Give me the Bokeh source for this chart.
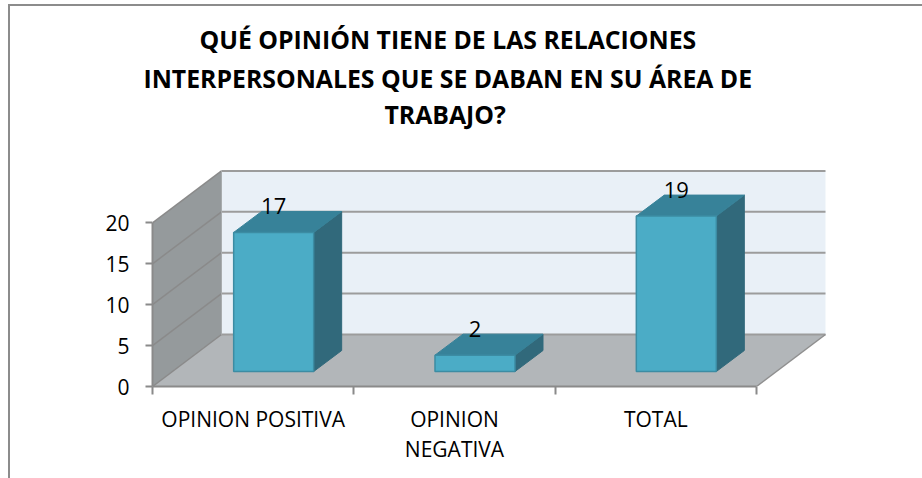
from bokeh.embed import file_html
from bokeh.resources import INLINE
from bokeh.plotting import figure
from bokeh.models import ColumnDataSource, FixedTicker, Title, LinearAxis

TITLE_LINES = ["QUÉ OPINIÓN TIENE DE LAS RELACIONES", "INTERPERSONALES QUE SE DABAN EN SU ÁREA DE", "TRABAJO?"]
TITLE_OFFSETS = [47, -9, 232]
categories = ["OPINION POSITIVA", "OPINION\nNEGATIVA", "TOTAL"]
values = [17, 2, 19]
y_ticks = [0, 5, 10, 15, 20]

PX_X = 201.33   # pixels per category
PX_Y = 8.18     # pixels per unit
OX, OY = 10, 6  # figure origin on the page, border included
FRAME_L, FRAME_T, FRAME_R, FRAME_B = 152 - OX, 130 - OY, 830 - OX, 386 - OY
W, H = 922 - OX, 478 - OY

DX = 69 / PX_X     # wall depth
DY = 52 / PX_Y
BDX = 28 / PX_X    # bar depth
BDY = 21 / PX_Y
BOX = 15 / PX_Y    # bar front offset above the axis
BL = 80 / PX_X / 2
BAR_SHIFT = 20.5 / PX_X

p = figure(width=W, height=H, output_backend="svg", toolbar_location=None,
           x_range=(0, (FRAME_R - FRAME_L) / PX_X),
           y_range=(0, (FRAME_B - FRAME_T) / PX_Y),
           x_axis_location=None, y_axis_location=None,
           frame_width=FRAME_R - FRAME_L, frame_height=FRAME_B - FRAME_T,
           min_border_left=FRAME_L, min_border_right=W - FRAME_R,
           min_border_top=FRAME_T, min_border_bottom=H - FRAME_B,
           outline_line_color=None, margin=(4, 0, 0, 8),
           styles={"border-left": "2px solid #8C8C8C", "border-top": "2px solid #8C8C8C",
                   "box-sizing": "content-box"})
p.grid.visible = False
p.background_fill_color = None

ymax = y_ticks[-1]
n = len(categories)

# back wall, floor, side wall
p.patch([DX, n + DX, n + DX, DX], [DY, DY, ymax + DY, ymax + DY], fill_color="#E9F0F7", line_color=None)
p.patch([0, DX, n + DX, n], [0, DY, DY, 0], fill_color="#B2B6B9", line_color=None)
p.patch([0, DX, DX, 0], [0, DY, ymax + DY, ymax], fill_color="#959A9C", line_color=None)

# grid
p.segment([DX] * len(y_ticks), [t + DY for t in y_ticks], [n + DX] * len(y_ticks), [t + DY for t in y_ticks],
          line_color="#9C9C9C", line_width=2)
p.segment([0] * len(y_ticks), y_ticks, [DX] * len(y_ticks), [t + DY for t in y_ticks],
          line_color="#8A8A8A", line_width=1.5)
p.segment([DX], [0 + DY], [DX], [ymax + DY], line_color="#A8ACAE", line_width=1)
p.segment([n], [0], [n + DX], [DY], line_color="#8F8F8F", line_width=1.5)

# bars
cx = [i + 0.5 for i in range(n)]
bx = [c + BAR_SHIFT for c in cx]
front, side, top = dict(xs=[], ys=[]), dict(xs=[], ys=[]), dict(xs=[], ys=[])
for c, v in zip(bx, values):
    l, r = c - BL, c + BL
    b, t = BOX, BOX + v
    front["xs"].append([l, r, r, l]); front["ys"].append([b, b, t, t])
    side["xs"].append([r, r + BDX, r + BDX, r]); side["ys"].append([b, b + BDY, t + BDY, t])
    top["xs"].append([l, r, r + BDX, l + BDX]); top["ys"].append([t, t, t + BDY, t + BDY])
p.patches("xs", "ys", source=ColumnDataSource(side), fill_color="#31697B", line_color="#31697B")
p.patches("xs", "ys", source=ColumnDataSource(top), fill_color="#378299", line_color="#378299")
p.patches("xs", "ys", source=ColumnDataSource(front), fill_color="#4BACC6", line_color="#3C8CA3", line_width=1.5)

# data labels
lab = ColumnDataSource(dict(x=bx, y=[BOX + v + 3.2 for v in values], t=[str(v) for v in values]))
p.text("x", "y", text="t", source=lab, text_align="center", text_baseline="middle",
       text_font_size="22px", text_font={"value": "Open Sans"}, text_color="#000000")

# axes
ya = LinearAxis(ticker=FixedTicker(ticks=y_ticks), bounds=(0, ymax))
ya.axis_line_color = "#8A8A8A"; ya.axis_line_width = 2
ya.major_tick_line_color = "#8A8A8A"; ya.major_tick_line_width = 2
ya.major_tick_in = 0; ya.major_tick_out = 7
ya.minor_tick_line_color = None
ya.major_label_text_font = "Open Sans"; ya.major_label_text_font_size = "21px"
ya.major_label_text_color = "#000000"; ya.major_label_standoff = 16
p.add_layout(ya, "left")

xa = LinearAxis(ticker=FixedTicker(ticks=cx, minor_ticks=list(range(n + 1))), bounds=(0, n),
                major_label_overrides={c: t for c, t in zip(cx, categories)})
xa.axis_line_color = "#8A8A8A"; xa.axis_line_width = 2
xa.major_tick_line_color = None
xa.minor_tick_line_color = "#8A8A8A"; xa.minor_tick_line_width = 2
xa.minor_tick_in = 0; xa.minor_tick_out = 8
xa.major_label_text_font = "Open Sans"; xa.major_label_text_font_size = "21px"
xa.major_label_text_color = "#000000"; xa.major_label_standoff = 10
xa.major_label_text_line_height = 1.1
p.add_layout(xa, "below")

# title, one block per line, placed from the left edge of the plot area
for i, (line, off) in enumerate(zip(reversed(TITLE_LINES), reversed(TITLE_OFFSETS))):
    p.add_layout(Title(text=line, align="left", offset=off, text_font="Open Sans", text_font_size="24.8px",
                       text_font_style="bold", text_color="#000000", standoff=6 if i == 2 else 0), "above")

open("out.html", "w").write(file_html(p, INLINE))
